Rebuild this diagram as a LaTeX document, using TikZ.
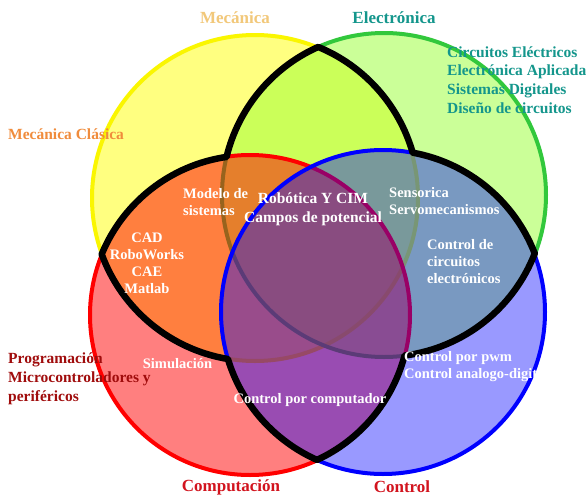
\documentclass[tikz,border=0pt]{standalone}
\usepackage{fontspec}
\setmainfont{Liberation Serif}
\definecolor{mecfill}{RGB}{255,255,128}
\definecolor{mecring}{RGB}{250,246,0}
\definecolor{elefill}{RGB}{153,255,51}
\definecolor{elering}{RGB}{50,200,60}
\definecolor{mectxt}{RGB}{242,200,122}
\definecolor{clatxt}{RGB}{240,140,60}
\definecolor{eletxt}{RGB}{20,150,140}
\definecolor{progtxt}{RGB}{160,12,12}
\definecolor{comtxt}{RGB}{210,20,30}
\begin{document}
\begin{tikzpicture}[x=1pt, y=1pt,
		ring/.style={line width=4pt},
		seam/.style={line width=6.5pt, line join=round, line cap=round},
		tag/.style={text=white, font=\bfseries\fontsize{14.5}{17}\selectfont, inner sep=0pt},
		side/.style={font=\bfseries\fontsize{15.5}{18.8}\selectfont, inner sep=0pt, align=left, anchor=west},
		title/.style={font=\bfseries\fontsize{17}{20}\selectfont, inner sep=0pt}]
	\useasboundingbox[fill=white] (0,0) rectangle (587,-498);
	\coordinate (mec) at (255,-198);
	\coordinate (ele) at (384,-195);
	\coordinate (com) at (250,-315);
	\coordinate (ctl) at (383,-312);
	\draw[ring, draw=mecring, fill=mecfill] (mec) circle[radius=163];
	\draw[ring, draw=elering, fill=elefill, fill opacity=.5] (ele) circle[radius=162];
	\draw[ring, draw=red, fill=red, fill opacity=.5] (com) circle[radius=160];
	\draw[ring, draw=blue, fill=blue, fill opacity=.4] (ctl) circle[radius=162];
	% borde de las zonas comunes
	\draw[seam] (ele) ++(114.5:162)
		arc[start angle=114.5, end angle=166.4, radius=162]
		arc[start angle=98.3, end angle=157.6, radius=160]
		arc[start angle=200.1, end angle=260.5, radius=163]
		arc[start angle=196.9, end angle=246, radius=162]
		arc[start angle=-65.2, end angle=-14.8, radius=160]
		arc[start angle=-82.6, end angle=-21.2, radius=162]
		arc[start angle=21.2, end angle=79.7, radius=162]
		arc[start angle=16, end angle=67.5, radius=163] -- cycle;
	\node[title, text=mectxt] (mecanica) at (235,-18) {Mecánica};
	\node[title, text=eletxt] (electronica) at (394,-18) {Electrónica};
	\node[title, text=comtxt] (computacion) at (231,-487) {Computación};
	\node[title, text=comtxt] (control) at (402,-487) {Control};
	\node[side, text=eletxt] (elelista) at (447,-80) {Circuitos Eléctricos\\Electrónica Aplicada\\Sistemas Digitales\\Diseño de circuitos};
	\node[side, text=clatxt] (clasica) at (8,-134) {Mecánica Clásica};
	\node[side, text=progtxt] (proglista) at (8,-379) {Programación\\Microcontroladores y\\periféricos};
	\node[tag, align=left, anchor=west] (modelo) at (183,-202.5) {Modelo de\\sistemas};
	\node[tag, align=center, font=\bfseries\fontsize{15.5}{19}\selectfont] (robotica) at (313,-209.5) {Robótica Y CIM\\Campos de potencial};
	\node[tag, align=left, anchor=west] (sensorica) at (389,-201) {Sensorica\\Servomecanismos};
	\node[tag, align=left, anchor=west] (circuitos) at (427,-262) {Control de\\circuitos\\electrónicos};
	\node[tag, align=center] (cad) at (147,-263) {CAD\\RoboWorks\\CAE\\Matlab};
	\node[tag] (simulacion) at (177.5,-364) {Simulación};
	\node[tag, align=left, anchor=west] (pwm) at (404,-366.5) {Control por pwm\\Control analogo-digital};
	\node[tag] (computador) at (310,-400) {Control por computador};
\end{tikzpicture}
\end{document}
